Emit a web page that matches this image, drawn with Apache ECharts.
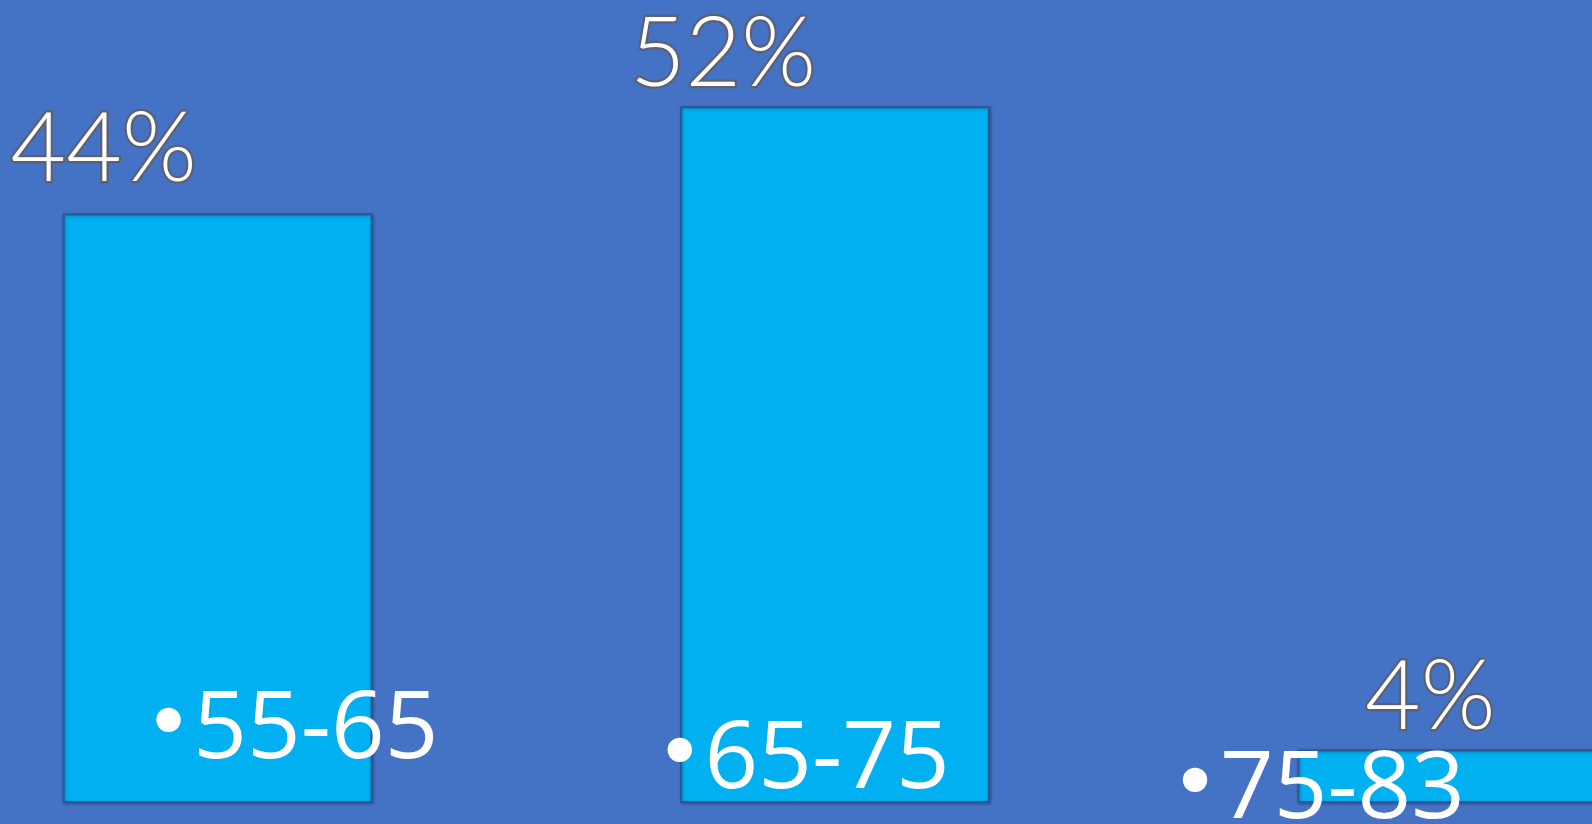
<!DOCTYPE html>
<html>
<head>
<meta charset="utf-8">
<script src="https://cdn.jsdelivr.net/npm/echarts@6/dist/echarts.min.js"></script>
<style>
html,body{margin:0;padding:0;background:#4472C4;}
#chart{width:1592px;height:824px;}
</style>
</head>
<body>
<div id="chart"></div>
<script>
// ---- data ----
const categories = ['•55-65', '•65-75', '•75-83'];
const values = [44, 52, 4];
const valueLabels = ['44%', '52%', '4%'];

// ---- layout (positions kept apart from data) ----
const pctLabelOffsets = [[-114, -10], [-112, 2], [-22, 2]];
const catLabelOffsets = [[-74, -72], [-180, -42], [-282, -12]];

const chart = echarts.init(document.getElementById('chart'), null, {renderer: 'canvas'});

const option = {
  backgroundColor: '#4472C4',
  animation: false,
  grid: {left: -91, width: 1852, top: -1, bottom: 21, containLabel: false, outerBoundsMode: 'none'},
  xAxis: {
    type: 'category',
    data: categories,
    axisLine: {show: false},
    axisTick: {show: false},
    axisLabel: {show: false}
  },
  yAxis: {
    type: 'value',
    min: 0,
    max: 60,
    show: false,
    splitLine: {show: false}
  },
  series: [{
    type: 'bar',
    barWidth: '50.2%',
    data: values.map((v, i) => ({
      value: v,
      label: {offset: pctLabelOffsets[i]}
    })),
    itemStyle: {
      color: '#00B0F0',
      borderColor: '#2F5597',
      borderWidth: 2,
      shadowColor: 'rgba(0,0,0,0.25)',
      shadowBlur: 3,
      shadowOffsetX: 1,
      shadowOffsetY: 1
    },
    label: {
      show: true,
      position: 'top',
      distance: 5,
      formatter: p => valueLabels[p.dataIndex],
      fontFamily: 'Lato',
      fontWeight: 300,
      fontSize: 96,
      color: '#FFFFFF',
      textBorderColor: 'rgba(95,95,105,0.9)',
      textBorderWidth: 4.5
    }
  }]
};
chart.setOption(option);

function placeCategoryLabels() {
  const base = chart.convertToPixel({yAxisIndex: 0}, 0);
  const elements = categories.map((c, i) => {
    const px = chart.convertToPixel({xAxisIndex: 0}, i);
    return {
      type: 'text',
      x: px + catLabelOffsets[i][0],
      y: base + catLabelOffsets[i][1],
      z: 10,
      style: {
        text: '{b|' + c.charAt(0) + '}{t|' + c.slice(1) + '}',
        fill: '#FFFFFF',
        textAlign: 'left',
        textVerticalAlign: 'middle',
        rich: {
          b: {fontFamily: 'DejaVu Sans', fontSize: 84, fill: '#FFFFFF', padding: [0, 0, 4, 0]},
          t: {fontFamily: 'Open Sans', fontSize: 94, fill: '#FFFFFF'}
        }
      }
    };
  });
  chart.setOption({graphic: {elements: elements}});
}
placeCategoryLabels();
</script>
</body>
</html>
